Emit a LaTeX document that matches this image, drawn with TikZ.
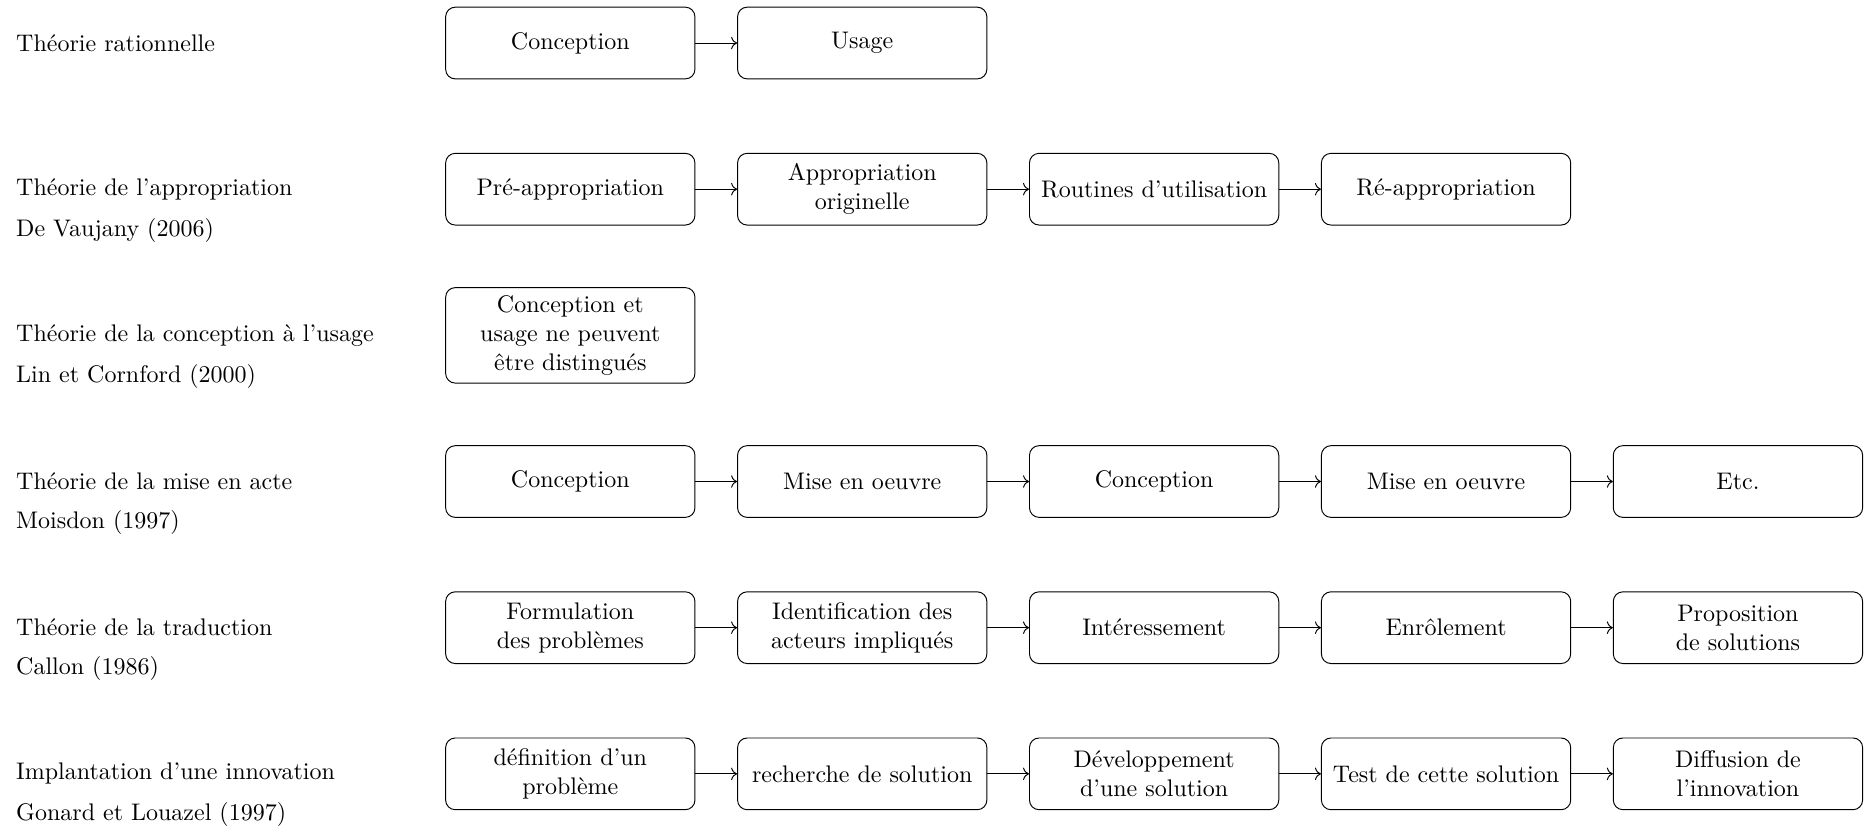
\documentclass[tikz,border=0pt]{standalone}
\usepackage{tikz}
\usetikzlibrary{arrows.meta,positioning}
\tikzset{
  etape/.style={draw, rounded corners, minimum width=3.65cm, minimum height=1.05cm, align=center},
  theorie/.style={anchor=west, inner sep=0pt},
}

\begin{document}
\begin{tikzpicture}[node distance=0.61cm]
\useasboundingbox (-8.35,0.63) rectangle (19.0,-11.49);
% rangée 1
\node[theorie] (ratT) at (-8.12,0) {Théorie rationnelle};
\node[etape] (rat1) at (0,0) {Conception};
\node[etape,right=of rat1] (rat2) {Usage};
\draw[->] (rat1) -- (rat2);
% rangée 2
\node[theorie] (appT) at (-8.12,-2.14) {Théorie de l'appropriation};
\node[theorie] (appA) at ([yshift=-0.6cm]appT.west) {De Vaujany (2006)};
\node[etape] (app1) at (0,-2.14) {Pré-appropriation};
\node[etape,right=of app1] (app2) {Appropriation\\originelle};
\node[etape,right=of app2] (app3) {Routines d'utilisation};
\node[etape,right=of app3] (app4) {Ré-appropriation};
\foreach \i/\j in {1/2,2/3,3/4} \draw[->] (app\i) -- (app\j);
% rangée 3
\node[theorie] (cuT) at (-8.12,-4.28) {Théorie de la conception à l'usage};
\node[theorie] (cuA) at ([yshift=-0.6cm]cuT.west) {Lin et Cornford (2000)};
\node[etape] (cu1) at (0,-4.28) {Conception et\\usage ne peuvent\\être distingués};
% rangée 4
\node[theorie] (actT) at (-8.12,-6.42) {Théorie de la mise en acte};
\node[theorie] (actA) at ([yshift=-0.6cm]actT.west) {Moisdon (1997)};
\node[etape] (act1) at (0,-6.42) {Conception};
\node[etape,right=of act1] (act2) {Mise en oeuvre};
\node[etape,right=of act2] (act3) {Conception};
\node[etape,right=of act3] (act4) {Mise en oeuvre};
\node[etape,right=of act4] (act5) {Etc.};
\foreach \i/\j in {1/2,2/3,3/4,4/5} \draw[->] (act\i) -- (act\j);
% rangée 5
\node[theorie] (traT) at (-8.12,-8.56) {Théorie de la traduction};
\node[theorie] (traA) at ([yshift=-0.6cm]traT.west) {Callon (1986)};
\node[etape] (tra1) at (0,-8.56) {Formulation\\des problèmes};
\node[etape,right=of tra1] (tra2) {Identification des\\acteurs impliqués};
\node[etape,right=of tra2] (tra3) {Intéressement};
\node[etape,right=of tra3] (tra4) {Enrôlement};
\node[etape,right=of tra4] (tra5) {Proposition\\de solutions};
\foreach \i/\j in {1/2,2/3,3/4,4/5} \draw[->] (tra\i) -- (tra\j);
% rangée 6
\node[theorie] (impT) at (-8.12,-10.70) {Implantation d'une innovation};
\node[theorie] (impA) at ([yshift=-0.6cm]impT.west) {Gonard et Louazel (1997)};
\node[etape] (imp1) at (0,-10.70) {définition d'un\\problème};
\node[etape,right=of imp1] (imp2) {recherche de solution};
\node[etape,right=of imp2] (imp3) {Développement\\d'une solution};
\node[etape,right=of imp3] (imp4) {Test de cette solution};
\node[etape,right=of imp4] (imp5) {Diffusion de\\l'innovation};
\foreach \i/\j in {1/2,2/3,3/4,4/5} \draw[->] (imp\i) -- (imp\j);
\end{tikzpicture}
\end{document}
